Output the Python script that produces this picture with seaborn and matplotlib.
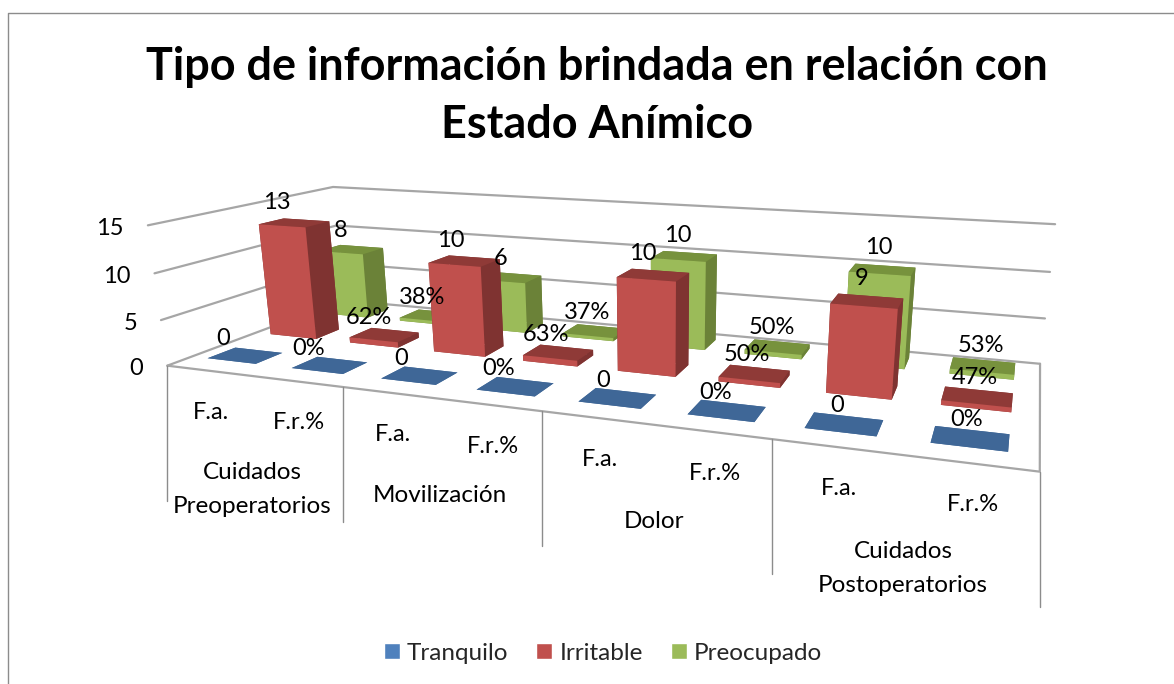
"""Tipo de informacion brindada en relacion con Estado Animico (3D column chart)."""

import matplotlib
matplotlib.use('Agg')
import matplotlib.pyplot as plt
from matplotlib.lines import Line2D
from matplotlib.patches import Patch
import numpy as np
import seaborn as sns

groups = ['Cuidados\nPreoperatorios', 'Movilización', 'Dolor', 'Cuidados\nPostoperatorios']
measures = ['F.a.', 'F.r.%']
series_names = ['Tranquilo', 'Irritable', 'Preocupado']
tranquilo = [0, 0, 0, 0, 0, 0, 0, 0]
irritable = [13, 0.62, 10, 0.63, 10, 0.50, 9, 0.47]
preocupado = [8, 0.38, 6, 0.37, 10, 0.50, 10, 0.53]
value_labels = [
    ['0', '0%', '0', '0%', '0', '0%', '0', '0%'],
    ['13', '62%', '10', '63%', '10', '50%', '9', '47%'],
    ['8', '38%', '6', '37%', '10', '50%', '10', '53%'],
]
z_ticks = [0, 5, 10, 15]

# front, top and right face colours per series
front_colors = ['#4F81BD', '#C0504D', '#9BBB59']
top_colors = ['#3F6797', '#8F3A37', '#77923D']
side_colors = ['#385D8A', '#7F3331', '#6B8238']

W, H = 1174, 684
# where the corners of the chart box land in the picture, used to fit the camera
camera_points = [
    ((0, 0, 0), (167, 363)), ((8, 0, 0), (1040, 473)),
    ((0, 3, 0), (343, 303)), ((8, 3, 0), (1040, 362)),
    ((0, 0, 15), (148, 227)), ((0, 3, 15), (333, 185)), ((8, 3, 15), (1055, 225)),
]


def fit_camera(points):
    """Fit a 3x4 camera matrix (data to picture pixels) from point pairs."""
    rows = []
    for (x, y, z), (u, v) in points:
        rows.append([x, y, z, 1, 0, 0, 0, 0, -u * x, -u * y, -u * z, -u])
        rows.append([0, 0, 0, 0, x, y, z, 1, -v * x, -v * y, -v * z, -v])
    P = np.linalg.svd(np.array(rows, dtype=float))[2][-1].reshape(3, 4)
    return P / P[2, 3]


P = fit_camera(camera_points)


def to_pixel(x, y, z):
    u, v, w = P @ np.array([x, y, z, 1.0])
    return u / w, v / w


sns.set_theme(style='white')
plt.rcParams['font.family'] = ['Lato', 'DejaVu Sans']

fig = plt.figure(figsize=(W / 100, H / 100), dpi=100)
ax = fig.add_axes([0, 0, 1, 1], projection='3d')
ax.computed_zorder = False
ax.set_axis_off()


def chart_proj():
    """Projection for mplot3d: the fitted camera, expressed in the axes' 2D data coords."""
    inv = ax.transData.inverted().get_matrix()
    flip = np.array([[1, 0, 0], [0, -1, H], [0, 0, 1]], dtype=float)
    Q = inv @ flip @ P
    return np.vstack([Q[0], Q[1], [0, 0, 0, -1], Q[2]])


ax.get_proj = chart_proj


def px_text(u, v, s, **kwargs):
    return fig.text(u / W, 1 - v / H, s, color='black', **kwargs)


grid_color = '#a6a6a6'
line_kw = dict(color=grid_color, lw=1.6, clip_on=False, zorder=1)
for z in z_ticks:
    ax.plot([0, 0, 8], [0, 3, 3], [z, z, z], **line_kw)
    u, v = to_pixel(0, 0, z)
    px_text(u - 24, v + 3, str(z), ha='right', va='center', fontsize=17)
ax.plot([0, 8, 8], [0, 0, 3], [0, 0, 0], **line_kw)

# category dividers hang straight down from the front edge of the floor
edge = [to_pixel(x, 0, 0) for x in [0, 2, 4, 6, 8]]
for u, v in edge:
    fig.add_artist(Line2D([u / W, u / W], [1 - v / H, 1 - (v + 135) / H], color='#8c8c8c', lw=1))
for g, label in enumerate(groups):
    (u0, v0), (u1, v1) = edge[g], edge[g + 1]
    um, vm = (u0 + u1) / 2, (v0 + v1) / 2
    px_text(um - 3, vm + 86, label, ha='center', va='top', fontsize=17.5, linespacing=1.75)
    px_text((u0 + um) / 2, (v0 + vm) / 2 + 41, measures[0], ha='center', va='center', fontsize=17)
    px_text((um + u1) / 2, (vm + v1) / 2 + 41, measures[1], ha='center', va='center', fontsize=17)

heights = [tranquilo, irritable, preocupado]
xs, ys, dzs, face_colors = [], [], [], []
for s, values in enumerate(heights):
    for i, v in enumerate(values):
        xs.append(i + 0.19)
        ys.append(s + 0.35)
        dzs.append(v)
        # bar3d face order: bottom, top, front, back, left, right
        face_colors += [top_colors[s], top_colors[s], front_colors[s],
                        side_colors[s], side_colors[s], side_colors[s]]
bars = ax.bar3d(xs, ys, np.zeros(len(xs)), 0.58, 0.42, dzs, color=face_colors, shade=False,
                linewidth=0, zorder=5)
bars.set_clip_on(False)

label_depth = [0.3, 1.35, 2.42]
for s, values in enumerate(heights):
    for i, v in enumerate(values):
        u, v2 = to_pixel(i + 0.45, label_depth[s], v + 2.6)
        px_text(u, v2, value_labels[s][i], ha='center', va='center', fontsize=17)

px_text(597, 96, 'Tipo de información brindada en relación con\nEstado Anímico',
        ha='center', va='center', fontsize=32.4, fontweight='bold', linespacing=1.5)

handles = [Patch(facecolor=c, label=n) for c, n in zip(front_colors, series_names)]
fig.legend(handles=handles, loc='center', bbox_to_anchor=(603 / W, 1 - 653 / H), ncol=3, frameon=False,
           fontsize=17.5, handlelength=0.65, handleheight=0.65, handletextpad=0.3, columnspacing=1.15)

fig.add_artist(Line2D([8 / W, 8 / W, 1], [0, 1 - 13 / H, 1 - 13 / H], color='#8c8c8c', lw=1))
fig.savefig('out.png', dpi=100)
